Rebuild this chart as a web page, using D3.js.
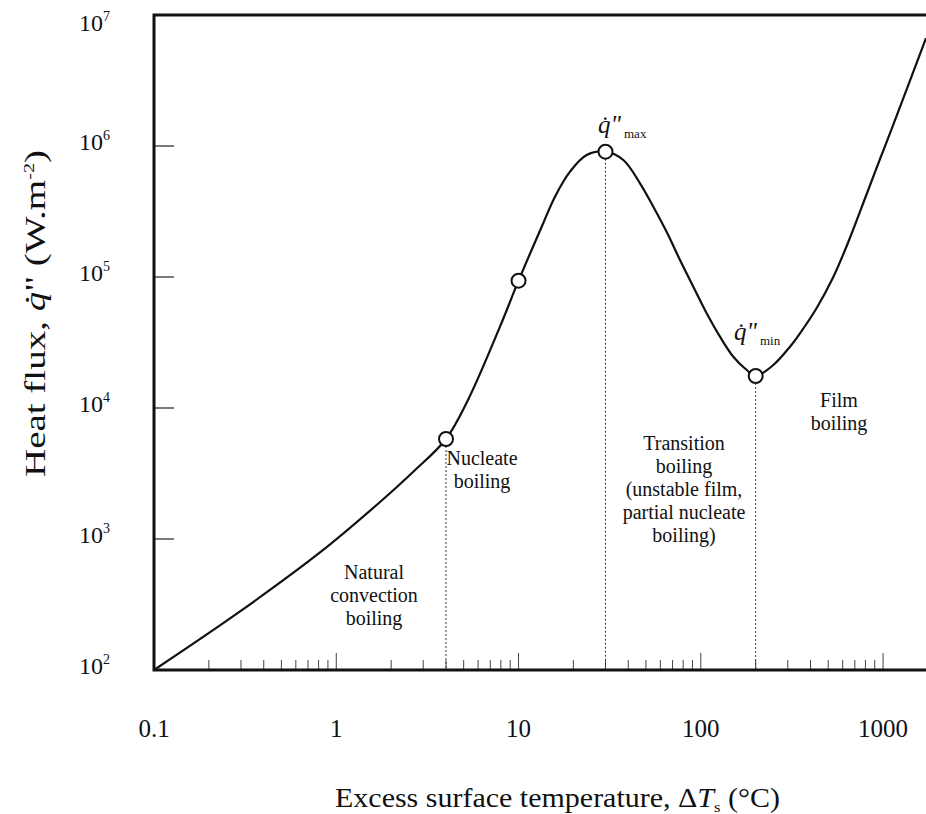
<!DOCTYPE html>
<html>
<head>
<meta charset="utf-8">
<script src="https://cdn.jsdelivr.net/npm/d3@7"></script>
<style>
  body { margin: 0; background: #fff; }
  text { font-family: "Liberation Serif", "Times New Roman", serif; fill: #111; }
</style>
</head>
<body>
<svg id="chart"></svg>
<script>
const width = 926, height = 814;

// boiling curve (deltaT in degC, q in W/m2)
const deltaT = [0.1, 0.2965, 0.814, 1.738, 2.636, 4, 5.28, 7.91, 10, 13.4, 15.85, 19.16, 23.65, 30, 37.57, 46.38, 54.88, 65.01, 76.88, 90.96, 107.7, 127.4, 150.8, 178.6, 200, 249.9, 308.6, 350.1, 432.3, 533.3, 644.6, 813, 962, 1115, 1720];
const heatFlux = [100, 280, 789, 1916, 3246, 5800, 11510, 41750, 93700, 242100, 410300, 636800, 853500, 905000, 781700, 519100, 344000, 220600, 134800, 84330, 52840, 35030, 24630, 19500, 17550, 21290, 29380, 37170, 58000, 100000, 185000, 430200, 795800, 1349000, 6670000];

// regime boundaries (circles) and which of them get a dotted drop line
const markerT = [4, 10, 30, 200];
const markerQ = [5800, 93700, 905000, 17550];
const dropT = [4, 30, 200];
const dropQ = [5800, 905000, 17550];

const xTickLabels = ["0.1", "1", "10", "100", "1000"];
const xTickValues = [0.1, 1, 10, 100, 1000];
const yExponents = [2, 3, 4, 5, 6, 7];

const svg = d3.select("#chart")
    .attr("width", width)
    .attr("height", height);

const x = d3.scaleLog().domain([0.1, 1720]).range([154, 926]);
const y = d3.scaleLog().domain([100, 1e7]).range([670, 15]);

// minor / major ticks on the bottom axis, drawn inward
const xTicks = [];
xTickValues.forEach(d => {
    for (let k = 1; k <= 9; k++) {
        const v = k * d;
        if (v > 0.1 && v <= 1720) xTicks.push({ v: v, major: k === 1 });
    }
});

svg.append("g").selectAll("line")
    .data(xTicks)
    .join("line")
    .attr("x1", d => x(d.v)).attr("x2", d => x(d.v))
    .attr("y1", y(100)).attr("y2", d => y(100) - (d.major ? 17 : 10))
    .attr("stroke", "#444")
    .attr("stroke-width", 1);

// y major ticks, inward
svg.append("g").selectAll("line")
    .data(yExponents.filter(e => e > 2 && e < 7))
    .join("line")
    .attr("x1", x(0.1)).attr("x2", x(0.1) + 20)
    .attr("y1", d => y(Math.pow(10, d))).attr("y2", d => y(Math.pow(10, d)))
    .attr("stroke", "#222")
    .attr("stroke-width", 1.2);

// dotted drop lines
svg.append("g").selectAll("line")
    .data(dropT)
    .join("line")
    .attr("x1", d => x(d)).attr("x2", d => x(d))
    .attr("y1", (d, i) => y(dropQ[i]) + 7)
    .attr("y2", y(100))
    .attr("stroke", "#333")
    .attr("stroke-width", 1)
    .attr("stroke-dasharray", "2,2");

// frame: left, top, bottom (no right border)
svg.append("path")
    .attr("d", `M${width},${y(1e7)}H${x(0.1)}V${y(100)}H${width}`)
    .attr("fill", "none")
    .attr("stroke", "#111")
    .attr("stroke-width", 3);

// curve
const line = d3.line()
    .x((d, i) => x(deltaT[i]))
    .y(d => y(d))
    .curve(d3.curveCatmullRom.alpha(0.5));

svg.append("path")
    .datum(heatFlux)
    .attr("d", line)
    .attr("fill", "none")
    .attr("stroke", "#111")
    .attr("stroke-width", 2.2);

svg.append("g").selectAll("circle")
    .data(markerT)
    .join("circle")
    .attr("cx", d => x(d))
    .attr("cy", (d, i) => y(markerQ[i]))
    .attr("r", 7)
    .attr("fill", "#fff")
    .attr("stroke", "#111")
    .attr("stroke-width", 2);

// tick labels
svg.append("g").selectAll("text")
    .data(xTickValues)
    .join("text")
    .attr("x", d => x(d))
    .attr("y", 737)
    .attr("text-anchor", "middle")
    .attr("font-size", 25)
    .text((d, i) => xTickLabels[i]);

const yl = svg.append("g").selectAll("text")
    .data(yExponents)
    .join("text")
    .attr("x", 110)
    .attr("y", d => Math.max(y(Math.pow(10, d)) + 4, 31))
    .attr("text-anchor", "end")
    .attr("font-size", 24);
yl.append("tspan").text("10");
yl.append("tspan").attr("font-size", 14).attr("dy", -10).text(d => d);

// axis titles
const xt = svg.append("text")
    .attr("x", 335).attr("y", 807)
    .attr("font-size", 27)
    .attr("textLength", 445)
    .attr("lengthAdjust", "spacingAndGlyphs");
xt.append("tspan").text("Excess surface temperature, \u0394");
xt.append("tspan").attr("font-style", "italic").text("T");
xt.append("tspan").attr("font-size", 15).attr("dy", 5).text("s");
xt.append("tspan").attr("dy", -5).text(" (\u00B0C)");

const yt = svg.append("text")
    .attr("transform", "translate(45,477) rotate(-90)")
    .attr("font-size", 29)
    .attr("textLength", 327)
    .attr("lengthAdjust", "spacingAndGlyphs");
yt.append("tspan").text("Heat flux, ");
yt.append("tspan").attr("font-style", "italic").text("q\u0307");
yt.append("tspan").text("\" (W.m");
yt.append("tspan").attr("font-size", 15).attr("dy", -11).text("-2");
yt.append("tspan").attr("dy", 11).text(")");

// regime labels
const regimes = [
    { lines: ["Natural", "convection", "boiling"], cx: 374, top: 579 },
    { lines: ["Nucleate", "boiling"], cx: 482, top: 465 },
    { lines: ["Transition", "boiling", "(unstable film,", "partial nucleate", "boiling)"], cx: 684, top: 450 },
    { lines: ["Film", "boiling"], cx: 839, top: 407 }
];
regimes.forEach(r => {
    const t = svg.append("text")
        .attr("text-anchor", "middle")
        .attr("font-size", 20);
    r.lines.forEach((s, i) => {
        t.append("tspan").attr("x", r.cx).attr("y", r.top + i * 23).text(s);
    });
});

// q"max / q"min annotations
function fluxLabel(px, py, sub) {
    const t = svg.append("text").attr("x", px).attr("y", py).attr("font-size", 25);
    t.append("tspan").attr("font-style", "italic").text("q\u0307");
    t.append("tspan").attr("font-style", "italic").text("\"");
    t.append("tspan").attr("font-size", 13).attr("dx", 3).attr("dy", 5).text(sub);
}
fluxLabel(598, 133, "max");
fluxLabel(734, 340, "min");
</script>
</body>
</html>
